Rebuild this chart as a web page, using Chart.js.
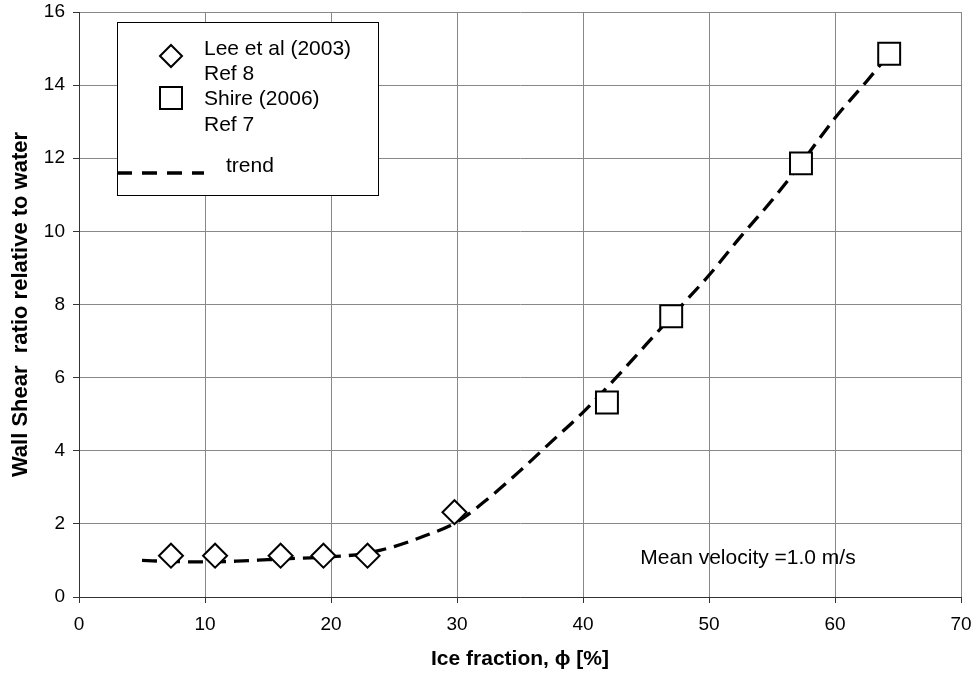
<!DOCTYPE html>
<html>
<head>
<meta charset="utf-8">
<script src="https://cdn.jsdelivr.net/npm/chart.js@4/dist/chart.umd.min.js"></script>
<style>
  html, body { margin: 0; padding: 0; background: #fff; }
  #wrap { width: 975px; height: 674px; }
</style>
</head>
<body>
<div id="wrap"><canvas id="shearChart" width="975" height="674"></canvas></div>
<script>
// Lee et al (2003), Ref 8
const leeX = [7.3, 10.8, 16.0, 19.4, 22.9, 29.8];
const leeY = [1.13, 1.13, 1.13, 1.13, 1.13, 2.32];

// Shire (2006), Ref 7
const shireX = [41.9, 47.0, 57.3, 64.3];
const shireY = [5.32, 7.68, 11.86, 14.86];

// trend curve
const trendX = [5, 7.5, 10, 12.5, 15, 17.5, 20, 22.5, 25, 27.5, 30, 32.5, 35, 37.5, 40, 42.5, 45, 47.5, 50, 52.5, 55, 57.5, 60, 62.5, 64.3];
const trendY = [1.0, 0.97, 0.96, 0.98, 1.02, 1.06, 1.1, 1.18, 1.38, 1.68, 2.05, 2.7, 3.45, 4.25, 5.05, 5.95, 6.9, 7.85, 8.8, 9.85, 10.85, 11.95, 13.1, 14.1, 14.85];

const xTicks = [0, 10, 20, 30, 40, 50, 60, 70];
const yTicks = [0, 2, 4, 6, 8, 10, 12, 14, 16];

const font = "'Liberation Sans', Arial, sans-serif";

function toPoints(xs, ys) {
    return xs.map((x, i) => ({ x: x, y: ys[i] }));
}

// legend box and note text, drawn on top of the plot
const extrasPlugin = {
    id: 'extras',
    afterDatasetsDraw(chart) {
        const ctx = chart.ctx;
        const area = chart.chartArea;
        const xs = chart.scales.x, ys = chart.scales.y;
        ctx.save();

        // note
        ctx.fillStyle = '#000';
        ctx.font = '21px ' + font;
        ctx.textBaseline = 'alphabetic';
        ctx.textAlign = 'left';
        ctx.fillText('Mean velocity =1.0 m/s', xs.getPixelForValue(44.55), ys.getPixelForValue(0.9));

        // legend box
        const bx = area.left + 38, by = area.top + 10, bw = 261, bh = 173;
        ctx.fillStyle = '#fff';
        ctx.fillRect(bx, by, bw, bh);
        ctx.strokeStyle = '#000';
        ctx.lineWidth = 1;
        ctx.strokeRect(bx + 0.5, by + 0.5, bw, bh);

        ctx.lineWidth = 2;
        // diamond
        const dx = bx + 54, dy = by + 34;
        ctx.beginPath();
        ctx.moveTo(dx, dy - 11); ctx.lineTo(dx + 11, dy); ctx.lineTo(dx, dy + 11); ctx.lineTo(dx - 11, dy); ctx.closePath();
        ctx.stroke();
        // square
        ctx.strokeRect(bx + 43, by + 65, 22, 22);
        // dashes
        ctx.lineWidth = 3.3;
        ctx.setLineDash([15, 10]);
        ctx.beginPath();
        ctx.moveTo(bx, by + 151); ctx.lineTo(bx + 87, by + 151);
        ctx.stroke();
        ctx.setLineDash([]);

        ctx.fillStyle = '#000';
        ctx.font = '21px ' + font;
        ctx.fillText('Lee et al (2003)', bx + 87, by + 33);
        ctx.fillText('Ref 8', bx + 87, by + 58);
        ctx.fillText('Shire (2006)', bx + 87, by + 83);
        ctx.fillText('Ref 7', bx + 87, by + 109);
        ctx.fillText('trend', bx + 109, by + 150);
        ctx.restore();
    }
};

const config = {
    type: 'scatter',
    data: {
        datasets: [{
            label: 'trend',
            data: toPoints(trendX, trendY),
            showLine: true,
            borderColor: '#000',
            borderWidth: 3.3,
            borderDash: [15, 8],
            pointRadius: 0,
            cubicInterpolationMode: 'monotone',
            order: 3
        }, {
            label: 'Lee et al (2003) Ref 8',
            data: toPoints(leeX, leeY),
            pointStyle: 'rectRot',
            pointRadius: 12,
            pointBorderWidth: 2,
            borderColor: '#000',
            backgroundColor: '#fff',
            order: 1
        }, {
            label: 'Shire (2006) Ref 7',
            data: toPoints(shireX, shireY),
            pointStyle: 'rect',
            pointRadius: 15.5,
            pointBorderWidth: 2,
            borderColor: '#000',
            backgroundColor: '#fff',
            order: 1
        }]
    },
    options: {
        responsive: false,
        animation: false,
        layout: { autoPadding: false, padding: { left: 4, right: 14, top: 12, bottom: 0 } },
        plugins: {
            legend: { display: false },
            tooltip: { enabled: false }
        },
        scales: {
            x: {
                type: 'linear',
                min: 0, max: 70,
                afterBuildTicks: (s) => { s.ticks = xTicks.map(v => ({ value: v })); },
                afterFit: (s) => { s.height = 77; s.paddingLeft = 0; s.paddingRight = 0; },
                grid: { color: '#888', lineWidth: 1, tickLength: 6, tickColor: '#333' },
                border: { color: '#333', width: 1 },
                ticks: { color: '#000', font: { family: font, size: 19 }, padding: 10, maxRotation: 0 },
                title: { display: true, text: 'Ice fraction, \u03D5 [%]', color: '#000', font: { family: font, size: 21, weight: 'bold' }, padding: { top: 4, bottom: 2 } }
            },
            y: {
                type: 'linear',
                min: 0, max: 16,
                afterBuildTicks: (s) => { s.ticks = yTicks.map(v => ({ value: v })); },
                afterFit: (s) => { s.width = 75; s.paddingTop = 0; s.paddingBottom = 0; },
                grid: { color: '#888', lineWidth: 1, tickLength: 6, tickColor: '#333' },
                border: { color: '#333', width: 1 },
                ticks: { color: '#000', font: { family: font, size: 19 }, padding: 8 },
                title: { display: true, text: 'Wall Shear  ratio relative to water', color: '#000', font: { family: font, size: 22, weight: 'bold' }, padding: { top: 4, bottom: 4 } }
            }
        }
    },
    plugins: [extrasPlugin]
};

const shearChart = new Chart(document.getElementById('shearChart'), config);
</script>
</body>
</html>
